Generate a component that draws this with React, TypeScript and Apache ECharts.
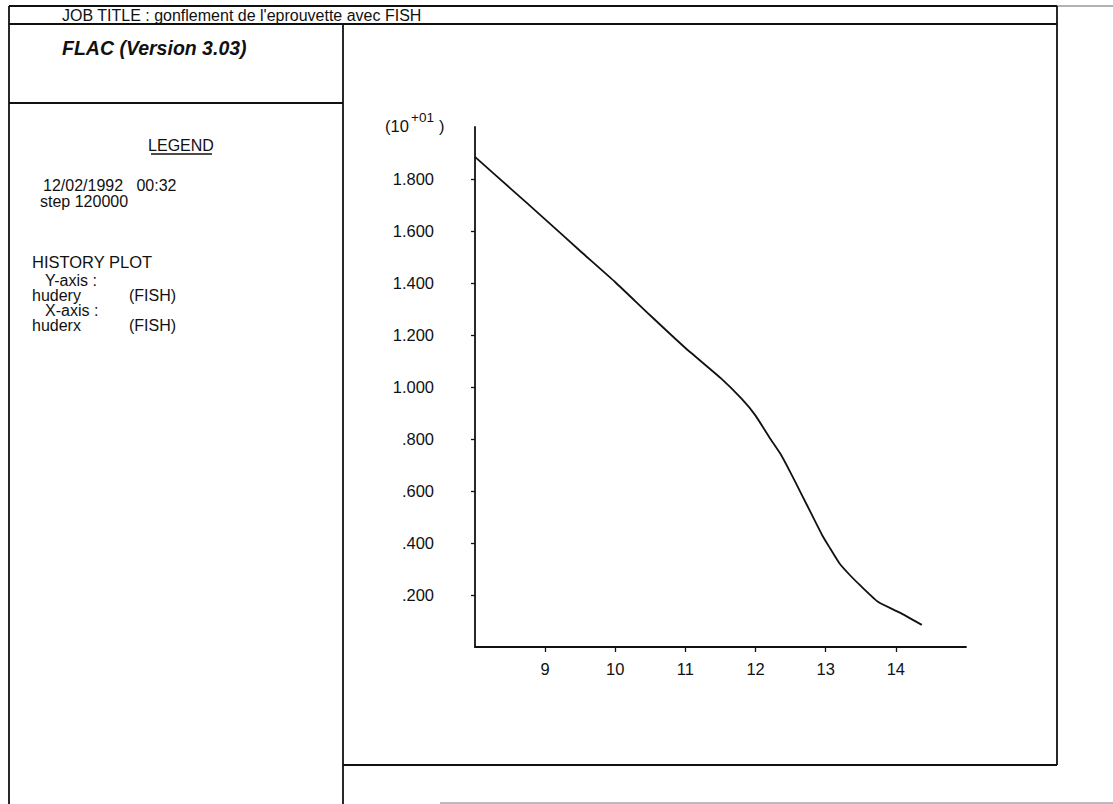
import React, { useEffect, useRef } from "react";
import * as echarts from "echarts";

// ---- data ----
const xValues = [8.0, 8.5, 9.0, 9.5, 10.0, 10.5, 11.0, 11.5, 11.8, 12.0, 12.2, 12.35, 12.5, 12.65, 12.8, 12.95, 13.05, 13.2, 13.35, 13.5, 13.75, 14.05, 14.37];
const yValues = [1.885, 1.765, 1.645, 1.523, 1.403, 1.275, 1.15, 1.035, 0.955, 0.89, 0.805, 0.745, 0.67, 0.59, 0.51, 0.43, 0.385, 0.32, 0.275, 0.235, 0.173, 0.133, 0.085];
const xTickValues = [9, 10, 11, 12, 13, 14];
const yTickValues = [0.2, 0.4, 0.6, 0.8, 1.0, 1.2, 1.4, 1.6, 1.8];

const jobTitle = "JOB TITLE : gonflement de l'eprouvette avec FISH";
const programName = "FLAC (Version 3.03)";
const legendHeading = "LEGEND";
const legendLines = ["12/02/1992   00:32", "step 120000"];
const historyHeading = "HISTORY PLOT";
const yAxisCaption = "Y-axis :";
const yVariable = ["hudery", "(FISH)"];
const xAxisCaption = "X-axis :";
const xVariable = ["huderx", "(FISH)"];
const scaleBase = "(10";
const scaleExp = "+01";
const scaleClose = ")";

const FONT = '"Liberation Sans", Arial, Helvetica, sans-serif';
const INK = "#111";

function txt(text: string, x: number, y: number, size = 16, extra: any = {}) {
  return {
    type: "text",
    style: {
      text,
      x,
      y,
      font: `${extra.italic ? "italic " : ""}${extra.weight || "normal"} ${size}px ${FONT}`,
      fill: INK,
      textAlign: extra.align || "left",
      textVerticalAlign: "middle",
    },
    silent: true,
  };
}

function ln(x1: number, y1: number, x2: number, y2: number, w = 1.5, color = INK) {
  return {
    type: "line",
    shape: { x1, y1, x2, y2 },
    style: { stroke: color, lineWidth: w },
    silent: true,
  };
}

export default function App() {
  const ref = useRef<HTMLDivElement>(null);

  useEffect(() => {
    if (!ref.current) return;
    const chart = echarts.init(ref.current, undefined, { renderer: "svg" });

    const graphic: any[] = [
      // frame
      ln(9, 6, 1057, 6, 1.8),
      ln(1057, 6, 1113, 6, 1, "#666"),
      ln(9, 6, 9, 804, 1.8),
      ln(9, 24, 1057, 24, 1.8),
      ln(1057, 6, 1057, 765, 1.8),
      ln(343, 24, 343, 804, 1.8),
      ln(9, 103, 343, 103, 1.8),
      ln(343, 765, 1057, 765, 1.8),
      ln(440, 803, 1113, 803, 1, "#777"),
      // header texts
      txt(jobTitle, 62, 15, 16),
      txt(programName, 62, 48, 19.5, { italic: true, weight: "bold" }),
      // legend panel
      txt(legendHeading, 181, 145, 16, { align: "center" }),
      ln(151, 154, 212, 154, 1.4),
      txt(legendLines[0], 43, 185, 16),
      txt(legendLines[1], 40, 201, 16),
      txt(historyHeading, 32, 262, 16.5),
      txt(yAxisCaption, 45, 280, 16),
      txt(yVariable[0], 32, 295, 16),
      txt(yVariable[1], 129, 295, 16),
      txt(xAxisCaption, 45, 310, 16),
      txt(xVariable[0], 32, 325, 16),
      txt(xVariable[1], 129, 325, 16),
      // axis scale factor
      txt(scaleBase, 385, 126, 16.5),
      txt(scaleExp, 411, 117, 13.5),
      txt(scaleClose, 439, 126, 16.5),
    ];

    const option: any = {
      animation: false,
      backgroundColor: "#fff",
      grid: { left: 475, top: 127, width: 491, height: 520, containLabel: false },
      xAxis: {
        type: "value",
        min: 8,
        max: 15,
        interval: 1,
        axisLine: { show: true, onZero: false, lineStyle: { color: INK, width: 1.8 } },
        axisTick: { show: true, customValues: xTickValues, length: 5, lineStyle: { color: INK, width: 1.3 } },
        axisLabel: { customValues: xTickValues, margin: 13, fontSize: 16.5, color: INK, fontFamily: FONT },
        splitLine: { show: false },
      },
      yAxis: {
        type: "value",
        min: 0,
        max: 2.0,
        interval: 0.2,
        axisLine: { show: true, onZero: false, lineStyle: { color: INK, width: 1.8 } },
        axisTick: { show: true, customValues: yTickValues, length: 4, lineStyle: { color: INK, width: 1.3 } },
        axisLabel: {
          customValues: yTickValues,
          margin: 41,
          fontSize: 16.5,
          color: INK,
          fontFamily: FONT,
          formatter: (v: number) => v.toFixed(3).replace(/^0/, ""),
        },
        splitLine: { show: false },
      },
      series: [
        {
          type: "line",
          data: xValues.map((x, i) => [x, yValues[i]]),
          showSymbol: false,
          smooth: 0.15,
          lineStyle: { color: INK, width: 1.8 },
        },
      ],
      graphic,
    };

    chart.setOption(option);
    return () => chart.dispose();
  }, []);

  return (
    <div
      ref={ref}
      style={{ position: "absolute", left: 0, top: 0, width: 1113, height: 804, background: "#fff" }}
    />
  );
}
